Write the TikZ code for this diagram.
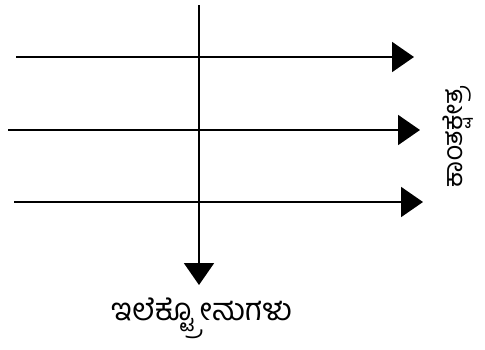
\documentclass[tikz,border=0pt]{standalone}
\usepackage{fontspec}
\newfontfamily\kanfont[Script=Kannada]{Hind Mysuru}
\usetikzlibrary{arrows.meta,positioning}
\tikzset{
  every picture/.style={line width=2pt, x=1pt, y=-1pt},
  fieldline/.style={-{Triangle[length=22pt,width=30pt]}},
  lbl/.style={font=\kanfont\fontsize{31}{34}\selectfont, inner sep=0pt},
}
\begin{document}
\begin{tikzpicture}
  \useasboundingbox (0,0) rectangle (485,349);
  % field lines, left to right
  \foreach \i/\xa/\xb/\y in {1/16/414/57, 2/8/420/130, 3/14/423/202} {
    \coordinate (s\i) at (\xa,\y);
    \coordinate (t\i) at (\xb,\y);
    \draw[fieldline] (s\i) -- (t\i);
  }
  % the electron beam
  \coordinate (etop) at (199,5);
  \coordinate (ebot) at (199,285);
  \draw[fieldline] (etop) -- (ebot);
  \node[lbl] (elec) at (202,318) {ಇಲೆಕ್ಟ್ರೋನುಗಳು};
  \node[lbl, font=\kanfont\fontsize{27}{30}\selectfont, rotate=90] (field) at (458,137) {ಕಾಂತಕ್ಷೇತ್ರ};
\end{tikzpicture}
\end{document}
